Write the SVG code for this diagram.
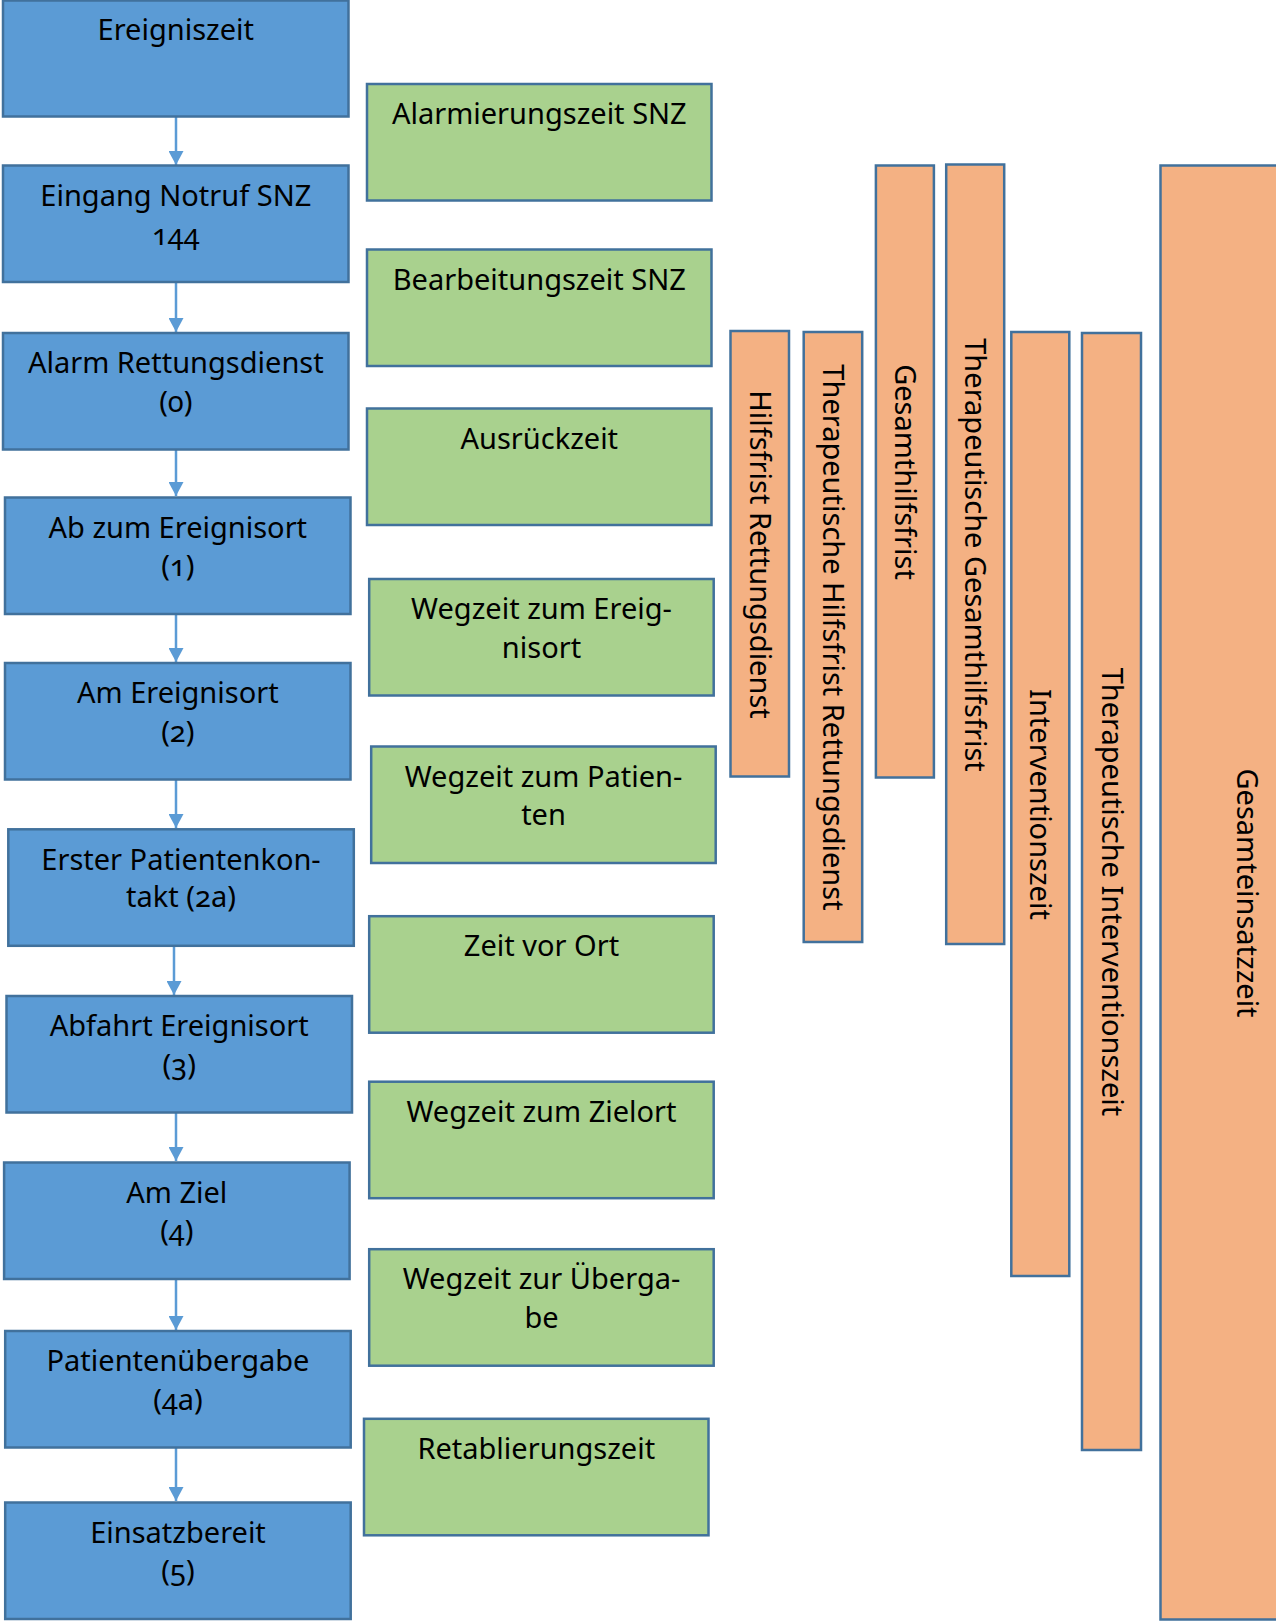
<svg xmlns="http://www.w3.org/2000/svg" width="1276" height="1622" viewBox="0 0 1276 1622">
<style>
text{font-family:"Noto Sans","Open Sans","DejaVu Sans",sans-serif;font-size:29px;fill:#000;text-anchor:middle;font-variant-numeric:oldstyle-nums}
.b{fill:#5B9BD5;stroke:#41719C;stroke-width:2.5}
.g{fill:#A9D18E;stroke:#41719C;stroke-width:2.5}
.o{fill:#F4B183;stroke:#41719C;stroke-width:2.5}
.c{stroke:#5B9BD5;stroke-width:2.5;fill:none;marker-end:url(#ah)}
</style>
<defs>
<marker id="ah" markerUnits="userSpaceOnUse" markerWidth="15" markerHeight="15" refX="14" refY="7.5" orient="auto" viewBox="0 0 15 15">
<path d="M0,0 L14,7.5 L0,15 z" fill="#5B9BD5"/>
</marker>
</defs>
<rect width="1276" height="1622" fill="#fff"/>
<g id="connectors">
<line class="c" x1="176" y1="117" x2="176" y2="165"/>
<line class="c" x1="176" y1="282" x2="176" y2="332"/>
<line class="c" x1="176" y1="450" x2="176" y2="496"/>
<line class="c" x1="176" y1="614" x2="176" y2="662"/>
<line class="c" x1="176" y1="780" x2="176" y2="828"/>
<line class="c" x1="174" y1="946" x2="174" y2="995"/>
<line class="c" x1="176" y1="1112" x2="176" y2="1161"/>
<line class="c" x1="176" y1="1279" x2="176" y2="1330"/>
<line class="c" x1="176" y1="1448" x2="176" y2="1501"/>
</g>
<g id="n1"><rect class="b" x="3" y="0.5" width="345.5" height="116"/><text x="175.8" y="40">Ereigniszeit</text></g>
<g id="n2"><rect class="b" x="3" y="165.5" width="345.5" height="116.5"/><text x="175.8" y="205.5">Eingang Notruf SNZ</text><text x="175.8" y="244.5">144</text></g>
<g id="n3"><rect class="b" x="3" y="333" width="345.5" height="116.5"/><text x="175.8" y="373">Alarm Rettungsdienst</text><text x="175.8" y="411.5">(0)</text></g>
<g id="n4"><rect class="b" x="5" y="497.5" width="345.5" height="116.5"/><text x="177.8" y="537.5">Ab zum Ereignisort</text><text x="177.8" y="576">(1)</text></g>
<g id="n5"><rect class="b" x="5" y="663" width="345.5" height="116.5"/><text x="177.8" y="703">Am Ereignisort</text><text x="177.8" y="741.5">(2)</text></g>
<g id="n6"><rect class="b" x="8.3" y="829.3" width="345.5" height="116.5"/><text x="181" y="869.5">Erster Patientenkon-</text><text x="181" y="906.5">takt (2a)</text></g>
<g id="n7"><rect class="b" x="6.5" y="996" width="345.5" height="116.5"/><text x="179.2" y="1035.5">Abfahrt Ereignisort</text><text x="179.2" y="1074.5">(3)</text></g>
<g id="n8"><rect class="b" x="4.1" y="1162.5" width="345.5" height="116.5"/><text x="176.8" y="1202.5">Am Ziel</text><text x="176.8" y="1241">(4)</text></g>
<g id="n9"><rect class="b" x="5.2" y="1331" width="345.5" height="116.5"/><text x="178" y="1371">Patientenübergabe</text><text x="178" y="1409.5">(4a)</text></g>
<g id="n10"><rect class="b" x="5.2" y="1502.5" width="345.5" height="116.5"/><text x="178" y="1542.5">Einsatzbereit</text><text x="178" y="1581">(5)</text></g>
<g id="g1"><rect class="g" x="367" y="84" width="344.5" height="116.5"/><text x="539.3" y="124">Alarmierungszeit SNZ</text></g>
<g id="g2"><rect class="g" x="367" y="249.5" width="344.5" height="116.5"/><text x="539.3" y="289.5">Bearbeitungszeit SNZ</text></g>
<g id="g3"><rect class="g" x="367" y="408.5" width="344.5" height="116.5"/><text x="539.3" y="448.5">Ausrückzeit</text></g>
<g id="g4"><rect class="g" x="369.2" y="579" width="344.5" height="116.5"/><text x="541.5" y="619">Wegzeit zum Ereig-</text><text x="541.5" y="657.5">nisort</text></g>
<g id="g5"><rect class="g" x="371.2" y="746.5" width="344.5" height="116.5"/><text x="543.5" y="786.5">Wegzeit zum Patien-</text><text x="543.5" y="825">ten</text></g>
<g id="g6"><rect class="g" x="369.2" y="916.2" width="344.5" height="116.5"/><text x="541.5" y="956.2">Zeit vor Ort</text></g>
<g id="g7"><rect class="g" x="369.2" y="1081.7" width="344.5" height="116.5"/><text x="541.5" y="1121.7">Wegzeit zum Zielort</text></g>
<g id="g8"><rect class="g" x="369.2" y="1249.2" width="344.5" height="116.5"/><text x="541.5" y="1289.2">Wegzeit zur Überga-</text><text x="541.5" y="1327.7">be</text></g>
<g id="g9"><rect class="g" x="364" y="1418.8" width="344.5" height="116.5"/><text x="536.3" y="1458.8">Retablierungszeit</text></g>
<g id="o1"><rect class="o" x="730.5" y="331" width="58.5" height="445.5"/><text transform="translate(750,554.5) rotate(90)">Hilfsfrist Rettungsdienst</text></g>
<g id="o2"><rect class="o" x="803.7" y="332" width="58.5" height="610"/><text transform="translate(823.2,637.5) rotate(90)">Therapeutische Hilfsfrist Rettungsdienst</text></g>
<g id="o3"><rect class="o" x="875.9" y="165.5" width="58" height="612"/><text transform="translate(894.9,472) rotate(90)">Gesamthilfsfrist</text></g>
<g id="o4"><rect class="o" x="946.2" y="164.5" width="58" height="779.5"/><text transform="translate(965.2,555) rotate(90)">Therapeutische Gesamthilfsfrist</text></g>
<g id="o5"><rect class="o" x="1011.3" y="332" width="58" height="944"/><text transform="translate(1030.3,804.5) rotate(90)">Interventionszeit</text></g>
<g id="o6"><rect class="o" x="1082" y="333" width="59" height="1117"/><text transform="translate(1102,892) rotate(90)">Therapeutische Interventionszeit</text></g>
<g id="o7"><rect class="o" x="1160.5" y="165.5" width="118" height="1454"/><text transform="translate(1237,893) rotate(90)">Gesamteinsatzzeit</text></g>
</svg>
